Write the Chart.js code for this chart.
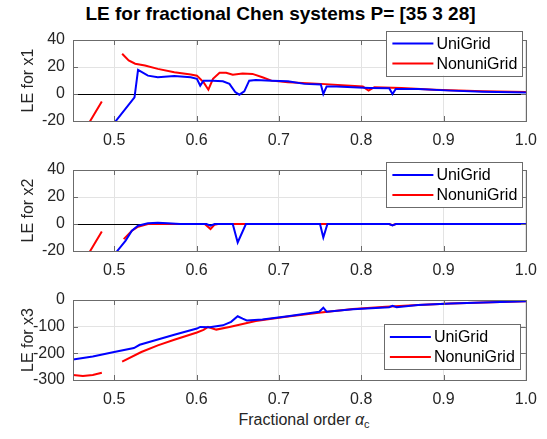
<!DOCTYPE html>
<html>
<head>
<meta charset="utf-8">
<script src="https://cdn.jsdelivr.net/npm/chart.js@4"></script>
<style>
  body { margin: 0; background: #fff; width: 547px; height: 439px; position: relative; overflow: hidden;
         font-family: 'Liberation Sans', Arial, sans-serif; }
  canvas { position: absolute; left: 0; }
  #title { position: absolute; left: 0; width: 561px; top: 3px; text-align: center; font-weight: bold;
           font-size: 19px; line-height: 22px; color: #000; }
  #xlabel { position: absolute; left: 73px; width: 462px; top: 410px; text-align: center;
            font-size: 16px; line-height: 20px; color: #262626; }
  #xlabel sub { font-size: 11px; vertical-align: -3px; line-height: 0; }
</style>
</head>
<body>
<div id="title">LE for fractional Chen systems P= [35 3 28]</div>
<canvas id="c1" width="547" height="150" style="top:0px"></canvas>
<canvas id="c2" width="547" height="130" style="top:150px"></canvas>
<canvas id="c3" width="547" height="129" style="top:280px"></canvas>
<div id="xlabel">Fractional order <i>α</i><sub>c</sub></div>
<script>
// ==================== DATA ====================
const seriesNames = ['UniGrid', 'NonuniGrid'];
const xTicks = [0.5, 0.6, 0.7, 0.8, 0.9, 1];
const yTicks12 = [-20, 0, 20, 40];
const yTicks3 = [-300, -200, -100, 0];

// LE for x1
const uniX1 = [0.497, 0.502, 0.5247, 0.529, 0.541, 0.553, 0.573, 0.593, 0.6005, 0.6045, 0.6085, 0.620, 0.632, 0.640, 0.647, 0.652, 0.658, 0.664, 0.672, 0.691, 0.711, 0.731, 0.751, 0.754, 0.758, 0.770, 0.790, 0.810, 0.834, 0.838, 0.842, 0.869, 0.909, 0.948, 1.0];
const uniY1 = [-26, -20, -2.5, 17.9, 13.6, 12.4, 13.4, 12.4, 11.2, 6.2, 9.9, 9.9, 9.4, 7.5, 1.5, -0.5, 2, 9.9, 10.4, 9.9, 9.4, 7.5, 7, 0, 5.5, 5.5, 5, 4.5, 4.2, 0, 3.7, 3.7, 2.5, 1.7, 1.2];
const nonX1 = [0.466, 0.485, 0.497, 0.5097, 0.5176, 0.5255, 0.5374, 0.553, 0.573, 0.593, 0.6005, 0.6085, 0.6144, 0.620, 0.628, 0.636, 0.644, 0.656, 0.668, 0.680, 0.691, 0.711, 0.751, 0.802, 0.809, 0.816, 0.849, 0.889, 0.948, 1.0];
const nonY1 = [-25, -5.5, null, 29.8, 24.8, 22.4, 21.1, 18.6, 16.1, 14.4, 13.6, 8.7, 3.2, 11.2, 15.7, 15.7, 14.2, 15.1, 14.9, 12.4, 9.9, 8.7, 7.5, 5.5, 2.5, 5, 4.5, 3.2, 2, 1.5];

// LE for x2
const uniX2 = [0.498, 0.5037, 0.5137, 0.5215, 0.529, 0.541, 0.553, 0.565, 0.58, 0.612, 0.617, 0.622, 0.644, 0.650, 0.660, 0.750, 0.754, 0.759, 0.834, 0.838, 0.842, 1.0];
const uniY2 = [-25, -20, -12.5, -5, -1.3, 0.5, 0.9, 0.5, 0, 0, -1.2, 0, 0, -13.7, 0, 0, -10, 0, 0, -1, 0, 0];
const nonX2 = [0.466, 0.485, 0.497, 0.5116, 0.5215, 0.529, 0.541, 0.610, 0.617, 0.622, 0.626, 0.834, 0.838, 0.842, 1.0];
const nonY2 = [-25, -5.5, null, -11.2, -5, -2, 0, 0, -3.7, -0.5, 0, 0, -0.8, 0, 0];

// LE for x3
const uniX3 = [0.45, 0.474, 0.5, 0.524, 0.531, 0.553, 0.573, 0.6005, 0.6045, 0.616, 0.632, 0.642, 0.650, 0.656, 0.661, 0.680, 0.711, 0.749, 0.754, 0.758, 0.790, 0.834, 0.838, 0.843, 0.869, 0.909, 0.948, 1.0];
const uniY3 = [-223, -212, -195, -180, -168, -148, -130, -107, -101, -102, -95, -82, -61, -70, -77, -73, -61, -44, -29, -44, -35, -27, -22, -27, -19, -13, -9, -5];
const nonX3 = [0.45, 0.462, 0.474, 0.485, 0.497, 0.5097, 0.533, 0.553, 0.573, 0.6005, 0.6085, 0.614, 0.624, 0.640, 0.672, 0.711, 0.751, 0.790, 0.830, 0.869, 0.909, 0.948, 1.0];
const nonY3 = [-281, -285, -281, -273, null, -231, -195, -170, -149, -122, -112, -101, -111, -101, -79, -62, -47, -34, -25, -19, -13, -9, -5];

// ==================== STYLE ====================
const axisColor = '#6b6b6b';
const gridColor = '#e3e3e3';
const textColor = '#262626';
const font16 = { family: "'Liberation Sans', Arial, sans-serif", size: 16 };
const lineColors = ['#0000ff', '#ff0000'];

const toPoints = (xs, ys) => xs.map((x, i) => ({ x, y: ys[i] }));

// axes box + inward tick marks, MATLAB style
const framePlugin = {
  id: 'frame',
  afterDatasetsDraw(chart) {
    const ctx = chart.ctx, a = chart.chartArea;
    const xs = chart.scales.x, ys = chart.scales.y;
    ctx.save();
    ctx.strokeStyle = axisColor;
    ctx.lineWidth = 1;
    ctx.beginPath();
    xs.ticks.forEach(t => {
      const px = Math.round(xs.getPixelForValue(t.value)) + 0.5;
      ctx.moveTo(px, a.bottom); ctx.lineTo(px, a.bottom - 5);
      ctx.moveTo(px, a.top); ctx.lineTo(px, a.top + 5);
    });
    ys.ticks.forEach(t => {
      const py = Math.round(ys.getPixelForValue(t.value)) + 0.5;
      ctx.moveTo(a.left, py); ctx.lineTo(a.left + 5, py);
      ctx.moveTo(a.right, py); ctx.lineTo(a.right - 5, py);
    });
    ctx.stroke();
    ctx.strokeRect(Math.round(a.left) + 0.5, Math.round(a.top) + 0.5,
      Math.round(a.right - a.left), Math.round(a.bottom - a.top));
    ctx.restore();
  }
};

// legend box drawn inside the axes
const boxLegend = {
  id: 'boxLegend',
  afterDraw(chart, args, opts) {
    const ctx = chart.ctx, a = chart.chartArea;
    const w = 136, h = 45;
    const left = a.right - opts.inset - w;
    const top = opts.fromBottom != null ? a.bottom - opts.fromBottom - h : a.top + opts.fromTop;
    ctx.save();
    ctx.fillStyle = '#fff';
    ctx.fillRect(left, top, w, h);
    ctx.strokeStyle = axisColor;
    ctx.lineWidth = 1;
    ctx.strokeRect(Math.round(left) + 0.5, Math.round(top) + 0.5, w, h);
    ctx.font = "16px 'Liberation Sans', Arial, sans-serif";
    ctx.textBaseline = 'middle';
    chart.data.datasets.forEach((ds, i) => {
      const y = top + 13 + i * 20;
      ctx.strokeStyle = ds.borderColor;
      ctx.lineWidth = 2;
      ctx.beginPath();
      ctx.moveTo(left + 6, y); ctx.lineTo(left + 47, y);
      ctx.stroke();
      ctx.fillStyle = '#000';
      ctx.fillText(ds.label, left + 50, y + 1);
    });
    ctx.restore();
  }
};

function makeChart(id, uni, non, yMin, yMax, yTicks, yTitle, padTop, legendPos, zeroLine) {
  return new Chart(document.getElementById(id), {
    type: 'line',
    data: {
      datasets: [uni, non].map((pts, i) => ({
        label: seriesNames[i],
        data: pts,
        borderColor: lineColors[i],
        borderWidth: 2,
        pointRadius: 0,
        tension: 0,
        spanGaps: false,
        clip: 0
      }))
    },
    options: {
      responsive: false,
      animation: false,
      events: [],
      layout: { padding: { top: padTop, right: 12, left: 0, bottom: 0 } },
      plugins: { legend: { display: false }, tooltip: { enabled: false }, boxLegend: legendPos },
      scales: {
        x: {
          type: 'linear', min: 0.45, max: 1,
          afterBuildTicks: s => { s.ticks = xTicks.map(v => ({ value: v })); },
          afterFit: s => { s.height = 29; },
          ticks: { color: textColor, font: font16, padding: 10, maxRotation: 0 },
          grid: { color: gridColor, drawTicks: false },
          border: { display: false }
        },
        y: {
          type: 'linear', min: yMin, max: yMax,
          afterBuildTicks: s => { s.ticks = yTicks.map(v => ({ value: v })); },
          afterFit: s => { s.width = 73; },
          ticks: { color: textColor, font: font16, padding: 8 },
          grid: {
            drawTicks: false,
            color: c => (zeroLine && c.tick && c.tick.value === 0) ? '#000' : gridColor
          },
          border: { display: false },
          title: { display: true, text: yTitle, color: textColor, font: font16, padding: { top: 19, bottom: 0 } }
        }
      }
    },
    plugins: [framePlugin, boxLegend]
  });
}

makeChart('c1', toPoints(uniX1, uniY1), toPoints(nonX1, nonY1), -20, 40, yTicks12, 'LE for x1', 40,
  { inset: 3.5, fromTop: -9.5 }, true);
makeChart('c2', toPoints(uniX2, uniY2), toPoints(nonX2, nonY2), -20, 40, yTicks12, 'LE for x2', 20,
  { inset: 3.5, fromTop: -8 }, true);
makeChart('c3', toPoints(uniX3, uniY3), toPoints(nonX3, nonY3), -300, 0, yTicks3, 'LE for x3', 20,
  { inset: 6, fromBottom: 11 }, false);
</script>
</body>
</html>
